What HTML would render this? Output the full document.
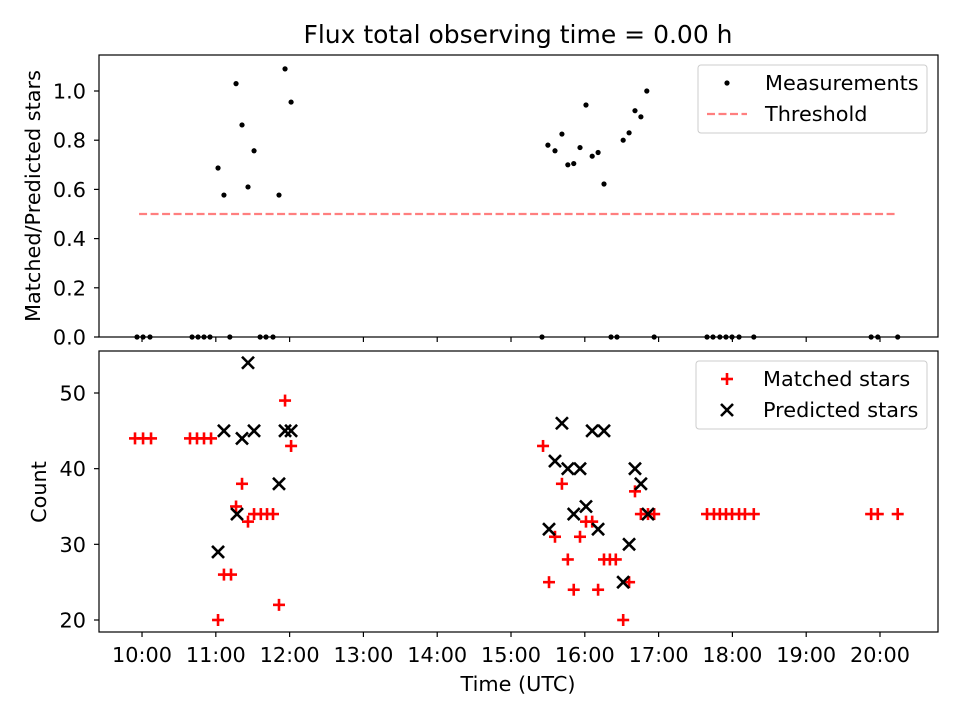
<!DOCTYPE html>
<html><head><meta charset="utf-8"><style>
body{margin:0;background:#fff;font-family:"Liberation Sans","DejaVu Sans",sans-serif}
svg text{font-family:"DejaVu Sans","Liberation Sans",sans-serif}
</style></head><body>
<svg id="c" width="960" height="720" xmlns="http://www.w3.org/2000/svg"></svg>
<script>
const ratioT=[9.932,10.014,10.108,10.678,10.759,10.84,10.921,11.03,11.11,11.19,11.274,11.355,11.436,11.518,11.6,11.68,11.775,11.856,11.938,12.02,15.42,15.5,15.596,15.69,15.77,15.85,15.935,16.016,16.1,16.18,16.26,16.355,16.436,16.52,16.6,16.68,16.76,16.84,16.94,17.656,17.737,17.83,17.913,17.995,18.09,18.29,19.88,19.97,20.24];
const ratioV=[0,0,0,0,0,0,0,0.687,0.577,0,1.03,0.862,0.61,0.757,0,0,0,0.577,1.09,0.955,0,0.78,0.757,0.825,0.70,0.705,0.77,0.943,0.735,0.75,0.622,0,0,0.80,0.83,0.92,0.895,1.0,0,0,0,0,0,0,0,0,0,0,0];
const matchedT=[9.905,10.014,10.122,10.65,10.745,10.84,10.935,11.03,11.11,11.206,11.274,11.355,11.436,11.518,11.61,11.694,11.775,11.856,11.938,12.02,15.434,15.515,15.596,15.69,15.77,15.85,15.935,16.016,16.1,16.18,16.26,16.34,16.42,16.52,16.6,16.68,16.76,16.856,16.94,17.656,17.75,17.83,17.913,17.995,18.09,18.17,18.29,19.88,19.97,20.24];
const matchedV=[44,44,44,44,44,44,44,20,26,26,35,38,33,34,34,34,34,22,49,43,43,25,31,38,28,24,31,33,33,24,28,28,28,20,25,37,34,34,34,34,34,34,34,34,34,34,34,34,34,34];
const predT=[11.03,11.11,11.287,11.355,11.436,11.518,11.856,11.938,12.02,15.515,15.596,15.69,15.77,15.85,15.935,16.016,16.1,16.18,16.26,16.52,16.6,16.68,16.76,16.856];
const predV=[29,45,34,44,54,45,38,45,45,32,41,46,40,34,40,35,45,32,45,25,30,40,38,34];
const threshold=0.5, thrT=[9.96,20.2];
const xTicks=[10,11,12,13,14,15,16,17,18,19,20];
const topTicks=[0,0.2,0.4,0.6,0.8,1.0];
const botTicks=[20,30,40,50];

const svg=document.getElementById('c');const NS='http://www.w3.org/2000/svg';
function mk(t,a,p){const e=document.createElementNS(NS,t);for(const k in a)e.setAttribute(k,a[k]);(p||svg).appendChild(e);return e;}
const L=99,R=938,FS=20.8;
const X=t=>L+(t-9.417)/(20.786-9.417)*(R-L);
const Y1=v=>337-v*246;
const Y2=v=>620-(v-20)*227/30;
function frame(top,bot,name){const r=mk('rect',{x:L,y:top,width:R-L,height:bot-top,fill:'none',stroke:'#000','stroke-width':1.2});}
let t=mk('text',{x:518,y:43,'text-anchor':'middle','font-size':25});t.textContent='Flux total observing time = 0.00 h';

let th=mk('line',{x1:X(thrT[0]),x2:X(thrT[1]),y1:Y1(threshold),y2:Y1(threshold),stroke:'#ff7f7f','stroke-width':2.2,'stroke-dasharray':'8,3.5'});

ratioT.forEach((tt,i)=>{const c=mk('circle',{cx:X(tt),cy:Y1(ratioV[i]),r:2.6,fill:'#000'});
});
function plus(x,y){const g=mk('g',{stroke:'#f00','stroke-width':2.6});mk('line',{x1:x-6,x2:x+6,y1:y,y2:y},g);mk('line',{x1:x,x2:x,y1:y-6,y2:y+6},g);return g;}
function cross(x,y){const g=mk('g',{stroke:'#000','stroke-width':2.6});mk('line',{x1:x-6,x2:x+6,y1:y-6,y2:y+6},g);mk('line',{x1:x-6,x2:x+6,y1:y+6,y2:y-6},g);return g;}
matchedT.forEach((tt,i)=>{const g=plus(X(tt),Y2(matchedV[i]));
});
predT.forEach((tt,i)=>{const g=cross(X(tt),Y2(predV[i]));
});
frame(55,337,'top-axes');frame(351,632,'bottom-axes');
xTicks.forEach(h=>{const x=X(h);mk('line',{x1:x,x2:x,y1:337,y2:342,stroke:'#000','stroke-width':1.2});mk('line',{x1:x,x2:x,y1:632,y2:637,stroke:'#000','stroke-width':1.2});
const e=mk('text',{x:x,y:662,'text-anchor':'middle','font-size':FS});e.textContent=h+':00';
});
topTicks.forEach(v=>{const y=Y1(v);mk('line',{x1:94,x2:99,y1:y,y2:y,stroke:'#000','stroke-width':1.2});
const e=mk('text',{x:86,y:y+7.5,'text-anchor':'end','font-size':FS});e.textContent=v.toFixed(1);
});
botTicks.forEach(v=>{const y=Y2(v);mk('line',{x1:94,x2:99,y1:y,y2:y,stroke:'#000','stroke-width':1.2});
const e=mk('text',{x:86,y:y+7.5,'text-anchor':'end','font-size':FS});e.textContent=v;
});
let a=mk('text',{x:518,y:691,'text-anchor':'middle','font-size':FS});a.textContent='Time (UTC)';
a=mk('text',{x:0,y:0,'text-anchor':'middle','font-size':FS,transform:'translate(40,196) rotate(-90)'});a.textContent='Matched/Predicted stars';
a=mk('text',{x:0,y:0,'text-anchor':'middle','font-size':FS,transform:'translate(46,492) rotate(-90)'});a.textContent='Count';
let lg=mk('g',{});
mk('rect',{x:698,y:65,width:229,height:68,rx:3,fill:'#fff',stroke:'#ccc'},lg);
mk('circle',{cx:727,cy:83,r:2.6,fill:'#000'},lg);
mk('line',{x1:707,x2:747,y1:114,y2:114,stroke:'#ff7f7f','stroke-width':2.2,'stroke-dasharray':'8,3.5'},lg);
let e=mk('text',{x:765,y:90,'font-size':FS},lg);e.textContent='Measurements';
e=mk('text',{x:765,y:121,'font-size':FS},lg);e.textContent='Threshold';
lg=mk('g',{});
mk('rect',{x:696,y:361,width:231,height:68,rx:3,fill:'#fff',stroke:'#ccc'},lg);
let g=plus(727,379);lg.appendChild(g);g=cross(727,410);lg.appendChild(g);
e=mk('text',{x:763,y:386,'font-size':FS},lg);e.textContent='Matched stars';
e=mk('text',{x:763,y:417,'font-size':FS},lg);e.textContent='Predicted stars';
</script></body></html>
